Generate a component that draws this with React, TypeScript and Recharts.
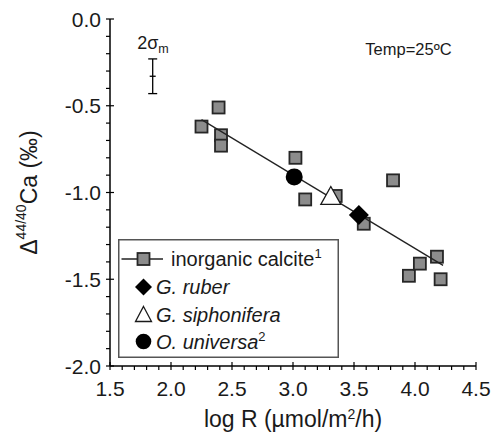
import React from 'react';
import { ComposedChart, Scatter, XAxis, YAxis, ErrorBar, ReferenceDot, Legend } from 'recharts';

const FONT = '"Liberation Sans", Arial, Helvetica, sans-serif';

// inorganic calcite (log R, Δ44/40Ca)
const inorganicX = [2.25, 2.39, 2.41, 2.41, 3.02, 3.10, 3.35, 3.58, 3.82, 3.95, 4.04, 4.18, 4.21];
const inorganicY = [-0.62, -0.51, -0.67, -0.73, -0.80, -1.04, -1.02, -1.18, -0.93, -1.48, -1.41, -1.37, -1.50];
// regression line through inorganic calcite
const fitX = [2.25, 4.23];
const fitY = [-0.58, -1.42];
// foraminifera
const ruberX = [3.54];
const ruberY = [-1.13];
const siphX = [3.31];
const siphY = [-1.02];
const universaX = [3.01];
const universaY = [-0.91];
// 2 sigma error bar
const sigmaX = [1.85];
const sigmaY = [-0.33];
const sigmaErr = [0.10];

const xTicks = [1.5, 1.6, 1.7, 1.8, 1.9, 2.0, 2.1, 2.2, 2.3, 2.4, 2.5, 2.6, 2.7, 2.8, 2.9, 3.0, 3.1, 3.2, 3.3, 3.4, 3.5, 3.6, 3.7, 3.8, 3.9, 4.0, 4.1, 4.2, 4.3, 4.4, 4.5];
const yTicks = [0, -0.1, -0.2, -0.3, -0.4, -0.5, -0.6, -0.7, -0.8, -0.9, -1.0, -1.1, -1.2, -1.3, -1.4, -1.5, -1.6, -1.7, -1.8, -1.9, -2.0];

const zip = (xs: number[], ys: number[]) => xs.map((x, i) => ({ x, y: ys[i] }));
const inorganic = zip(inorganicX, inorganicY);
const fit = zip(fitX, fitY);
const ruber = zip(ruberX, ruberY);
const siph = zip(siphX, siphY);
const universa = zip(universaX, universaY);
const sigma = sigmaX.map((x, i) => ({ x, y: sigmaY[i], err: sigmaErr[i] }));

const isMajor = (v: number) => Math.abs(v * 2 - Math.round(v * 2)) < 1e-6;

const XTick = (p: any) => {
  const { x, y, payload } = p;
  const v = payload.value;
  const major = isMajor(v);
  return (
    <g>
      <line x1={x} x2={x} y1={major ? y - 4 : y} y2={y + 4} stroke="#000" strokeWidth={1.2} />
      {major && (
        <text x={x} y={y + 30} textAnchor="middle" fontSize={21} fontFamily={FONT} fill="#1a1a1a">
          {v.toFixed(1)}
        </text>
      )}
    </g>
  );
};

const YTick = (p: any) => {
  const { x, y, payload } = p;
  const v = payload.value;
  const major = isMajor(v);
  return (
    <g>
      <line x1={x - 4} x2={major ? x + 4 : x} y1={y} y2={y} stroke="#000" strokeWidth={1.2} />
      {major && (
        <text x={x - 9} y={y + 7.5} textAnchor="end" fontSize={21} fontFamily={FONT} fill="#1a1a1a">
          {v.toFixed(1)}
        </text>
      )}
    </g>
  );
};

const XLabel = (p: any) => {
  const { viewBox } = p;
  const cx = viewBox.x + viewBox.width / 2;
  const by = viewBox.y + 60.5;
  return (
    <text x={cx} y={by} textAnchor="middle" fontSize={23} fontFamily={FONT} fill="#1a1a1a">
      log R (µmol/m<tspan dy={-8} fontSize={14}>2</tspan>
      <tspan dy={8}>/h)</tspan>
    </text>
  );
};

const YLabel = (p: any) => {
  const { viewBox } = p;
  const cx = viewBox.x + 27;
  const cy = viewBox.y + viewBox.height / 2;
  return (
    <text
      x={cx}
      y={cy}
      transform={`rotate(-90, ${cx}, ${cy})`}
      textAnchor="middle"
      fontSize={23}
      fontFamily={FONT}
      fill="#1a1a1a"
    >
      Δ<tspan dy={-11} fontSize={14}>44/40</tspan>
      <tspan dy={11}>Ca (‰)</tspan>
    </text>
  );
};

const SquareShape = (p: any) => (
  <rect x={p.cx - 6} y={p.cy - 6} width={12} height={12} fill="#8c8c8c" stroke="#262626" strokeWidth={1.8} />
);
const DiamondShape = (p: any) => (
  <path d={`M${p.cx},${p.cy - 10}L${p.cx + 10},${p.cy}L${p.cx},${p.cy + 10}L${p.cx - 10},${p.cy}Z`} fill="#000" />
);
const TriangleShape = (p: any) => (
  <path
    d={`M${p.cx},${p.cy - 9.5}L${p.cx + 10},${p.cy + 8.5}L${p.cx - 10},${p.cy + 8.5}Z`}
    fill="#fff"
    stroke="#1a1a1a"
    strokeWidth={1.3}
  />
);
const CircleShape = (p: any) => <circle cx={p.cx} cy={p.cy} r={8.5} fill="#000" />;
const DashShape = (p: any) => (
  <line x1={p.cx - 3} x2={p.cx + 3} y1={p.cy} y2={p.cy} stroke="#000" strokeWidth={1.3} />
);
const NoShape = () => <g />;

const LegendBox = () => {
  const rows = [20, 48, 75.5, 102.5];
  const ix = 25.5;
  return (
    <svg width={221} height={119} style={{ display: 'block' }}>
      <rect x={0.75} y={0.75} width={219.5} height={117.5} fill="#fff" stroke="#555" strokeWidth={1.5} />
      <line x1={3.5} x2={45} y1={rows[0]} y2={rows[0]} stroke="#222" strokeWidth={1.3} />
      <SquareShape cx={ix} cy={rows[0]} />
      <text x={53} y={rows[0] + 7} fontSize={20} fontFamily={FONT} fill="#1a1a1a">
        inorganic calcite<tspan dy={-8} fontSize={13}>1</tspan>
      </text>
      <path d={`M${ix},${rows[1] - 8.5}L${ix + 8.5},${rows[1]}L${ix},${rows[1] + 8.5}L${ix - 8.5},${rows[1]}Z`} fill="#000" />
      <text x={38} y={rows[1] + 7} fontSize={20} fontStyle="italic" fontFamily={FONT} fill="#1a1a1a">
        G. ruber
      </text>
      <path
        d={`M${ix},${rows[2] - 8}L${ix + 8},${rows[2] + 7}L${ix - 8},${rows[2] + 7}Z`}
        fill="#fff"
        stroke="#1a1a1a"
        strokeWidth={1.3}
      />
      <text x={38} y={rows[2] + 7} fontSize={20} fontStyle="italic" fontFamily={FONT} fill="#1a1a1a">
        G. siphonifera
      </text>
      <circle cx={ix} cy={rows[3]} r={7.8} fill="#000" />
      <text x={38} y={rows[3] + 7} fontSize={20} fontStyle="italic" fontFamily={FONT} fill="#1a1a1a">
        O. universa<tspan dy={-8} fontSize={13} fontStyle="normal">2</tspan>
      </text>
    </svg>
  );
};

export default function App() {
  return (
    <div style={{ position: 'absolute', left: 0, top: 0, width: 494, height: 434, background: '#fff' }}>
      <ComposedChart width={494} height={434} margin={{ top: 19, right: 18, bottom: 8, left: 10 }}>
        <XAxis
          dataKey="x"
          type="number"
          domain={[1.5, 4.5]}
          ticks={xTicks}
          interval={0}
          allowDataOverflow
          tick={(p: any) => <XTick {...p} />}
          tickLine={false}
          tickSize={0}
          tickMargin={0}
          axisLine={{ stroke: '#000', strokeWidth: 1.5 }}
          height={60}
          label={<XLabel />}
        />
        <YAxis
          dataKey="y"
          type="number"
          domain={[-2, 0]}
          ticks={yTicks}
          interval={0}
          allowDataOverflow
          tick={(p: any) => <YTick {...p} />}
          tickLine={false}
          tickSize={0}
          tickMargin={0}
          axisLine={{ stroke: '#000', strokeWidth: 1.5 }}
          width={100}
          label={<YLabel />}
        />
        <XAxis
          xAxisId="top"
          orientation="top"
          type="number"
          domain={[1.5, 4.5]}
          height={0}
          tick={false}
          tickLine={false}
          axisLine={{ stroke: '#000', strokeWidth: 1.5 }}
        />
        <YAxis
          yAxisId="right"
          orientation="right"
          type="number"
          domain={[-2, 0]}
          width={0}
          tick={false}
          tickLine={false}
          axisLine={{ stroke: '#000', strokeWidth: 1.5 }}
        />
        <Legend
          layout="vertical"
          align="center"
          verticalAlign="middle"
          content={() => <LegendBox />}
          wrapperStyle={{ position: 'absolute', left: 118, top: 239, width: 221, height: 119 }}
        />
        <Scatter name="inorganic calcite" data={inorganic} dataKey="y" shape={SquareShape} isAnimationActive={false} />
        <Scatter
          name="fit"
          data={fit}
          dataKey="y"
          shape={NoShape}
          line={{ stroke: '#222', strokeWidth: 1.3 }}
          legendType="none"
          isAnimationActive={false}
        />
        <Scatter name="G. ruber" data={ruber} dataKey="y" shape={DiamondShape} isAnimationActive={false} />
        <Scatter name="G. siphonifera" data={siph} dataKey="y" shape={TriangleShape} isAnimationActive={false} />
        <Scatter name="O. universa" data={universa} dataKey="y" shape={CircleShape} isAnimationActive={false} />
        <Scatter name="2sigma" data={sigma} dataKey="y" shape={DashShape} legendType="none" isAnimationActive={false}>
          <ErrorBar dataKey="err" direction="y" width={4.5} stroke="#000" strokeWidth={1.3} isAnimationActive={false} />
        </Scatter>
        <ReferenceDot
          x={1.85}
          y={-0.175}
          r={0}
          shape={(p: any) => (
            <text x={p.cx - 15.5} y={p.cy} fontSize={18} fontFamily={FONT} fill="#1a1a1a">
              2σ<tspan dy={4} fontSize={12.5}>m</tspan>
            </text>
          )}
        />
        <ReferenceDot
          x={4.3}
          y={-0.207}
          r={0}
          shape={(p: any) => (
            <text x={p.cx} y={p.cy} textAnchor="end" fontSize={16.5} fontFamily={FONT} fill="#1a1a1a">
              Temp=25ºC
            </text>
          )}
        />
      </ComposedChart>
    </div>
  );
}
